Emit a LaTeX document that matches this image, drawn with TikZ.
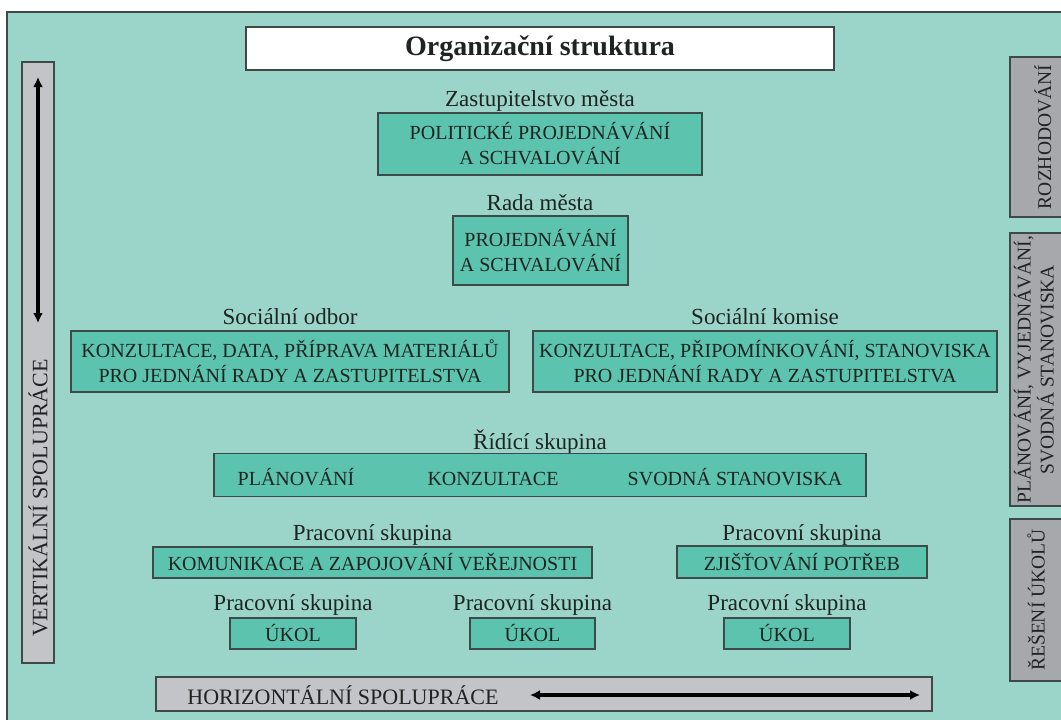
\documentclass[tikz,border=0pt]{standalone}
\usepackage{fontspec}
\setmainfont{Liberation Serif}
\usetikzlibrary{arrows.meta}
\definecolor{bgteal}{HTML}{9BD5C9}
\definecolor{boxteal}{HTML}{5CC3AE}
\definecolor{edgec}{HTML}{3E4A47}
\definecolor{lgray}{HTML}{C3C4C8}
\definecolor{dgray}{HTML}{A6A8AB}
\definecolor{ink}{HTML}{1E2422}
\begin{document}
\begin{tikzpicture}[x=1pt,y=-1pt,
  tbox/.style={draw=edgec,line width=1.3pt,fill=boxteal,text=ink,
    font=\fontsize{20}{25}\selectfont,align=center,inner sep=0pt},
  lbl/.style={text=ink,font=\fontsize{23}{26}\selectfont,inner sep=0pt},
  itm/.style={text=ink,font=\fontsize{20}{25}\selectfont,inner sep=0pt,anchor=base},
  gbox/.style={draw=edgec,line width=1.3pt,fill=lgray,inner sep=0pt},
  dbox/.style={draw=edgec,line width=1.3pt,fill=dgray,inner sep=0pt},
  side/.style={text=ink,font=\fontsize{22}{25}\selectfont,inner sep=0pt},
  rside/.style={text=ink,font=\fontsize{19.5}{23}\selectfont,inner sep=0pt,rotate=90,align=center},
  dblarrow/.style={line width=3.8pt,{Latex[length=10pt,width=10pt]}-{Latex[length=10pt,width=10pt]}}
]
\useasboundingbox (0,0) rectangle (1061,720);
\clip (0,0) rectangle (1061,720);
\fill[white] (0,0) rectangle (1061,720);
\draw[draw=edgec,line width=1.3pt,fill=bgteal] (7,12) rectangle (1080,740);

% title
\node[draw=edgec,line width=1.3pt,fill=white,minimum width=588pt,minimum height=43pt,inner sep=0pt,
  font=\bfseries\fontsize{28}{30}\selectfont,text=ink] (title) at (540,48.5) {Organizační struktura};

% Zastupitelstvo
\node[lbl] (lzast) at (540,101) {Zastupitelstvo města};
\node[tbox,minimum width=324pt,minimum height=62pt] (zast) at (540,144) {POLITICKÉ PROJEDNÁVÁNÍ\\A SCHVALOVÁNÍ};

% Rada
\node[lbl] (lrada) at (540,203) {Rada města};
\node[tbox,minimum width=175pt,minimum height=69pt] (rada) at (540.5,250.5) {PROJEDNÁVÁNÍ\\A SCHVALOVÁNÍ};

% Socialni odbor / komise
\node[lbl] (lodbor) at (290,317) {Sociální odbor};
\node[tbox,minimum width=438pt,minimum height=61pt] (odbor) at (290,361.5) {KONZULTACE, DATA, PŘÍPRAVA MATERIÁLŮ\\PRO JEDNÁNÍ RADY A ZASTUPITELSTVA};
\node[lbl] (lkomise) at (765,317) {Sociální komise};
\node[tbox,minimum width=464pt,minimum height=61pt] (komise) at (765,361.5) {KONZULTACE, PŘIPOMÍNKOVÁNÍ, STANOVISKA\\PRO JEDNÁNÍ RADY A ZASTUPITELSTVA};

% Ridici skupina
\node[lbl] (lridici) at (540,442) {Řídící skupina};
\node[tbox,minimum width=652pt,minimum height=43pt] (ridici) at (540,475) {};
\node[itm] (plan) at (296,485) {PLÁNOVÁNÍ};
\node[itm] (konz) at (493,485) {KONZULTACE};
\node[itm] (svod) at (735,485) {SVODNÁ STANOVISKA};

% Pracovni skupiny
\node[lbl] (lkom) at (372.5,535) {Pracovní skupina};
\node[tbox,minimum width=439pt,minimum height=31pt] (komun) at (372.5,562.5) {KOMUNIKACE A ZAPOJOVÁNÍ VEŘEJNOSTI};
\node[lbl] (lzjis) at (802,535) {Pracovní skupina};
\node[tbox,minimum width=250pt,minimum height=32pt] (zjis) at (802,562) {ZJIŠŤOVÁNÍ POTŘEB};

\node[lbl] (lu1) at (293,605) {Pracovní skupina};
\node[tbox,minimum width=126pt,minimum height=31pt] (u1) at (293,633.5) {ÚKOL};
\node[lbl] (lu2) at (532.5,605) {Pracovní skupina};
\node[tbox,minimum width=125pt,minimum height=31pt] (u2) at (532.5,633.5) {ÚKOL};
\node[lbl] (lu3) at (787,605) {Pracovní skupina};
\node[tbox,minimum width=126pt,minimum height=31pt] (u3) at (787,633.5) {ÚKOL};

% vertical cooperation
\node[gbox,minimum width=32pt,minimum height=601pt] (vbox) at (38,362.5) {};
\node[side,rotate=90] (vtext) at (38,498) {VERTIKÁLNÍ SPOLUPRÁCE};
\coordinate (vtop) at (38,77);
\coordinate (vbot) at (38,323);
\draw[dblarrow] (vtop) -- (vbot);

% horizontal cooperation
\node[gbox,minimum width=776pt,minimum height=34pt] (hbox) at (544,694) {};
\node[side] (htext) at (343,695) {HORIZONTÁLNÍ SPOLUPRÁCE};
\coordinate (hleft) at (530,695);
\coordinate (hright) at (920,695);
\draw[dblarrow] (hleft) -- (hright);

% right side
\node[dbox,minimum width=80pt,minimum height=160pt] (r1) at (1050,137) {};
\node[rside] (r1t) at (1043,137) {ROZHODOVÁNÍ};
\node[dbox,minimum width=80pt,minimum height=273pt] (r2) at (1050,369.5) {};
\node[rside] (r2t) at (1034,369.5) {PLÁNOVÁNÍ, VYJEDNÁVÁNÍ,\\SVODNÁ STANOVISKA};
\node[dbox,minimum width=80pt,minimum height=162pt] (r3) at (1050,600) {};
\node[rside] (r3t) at (1036,600) {ŘEŠENÍ ÚKOLŮ};
\end{tikzpicture}
\end{document}
